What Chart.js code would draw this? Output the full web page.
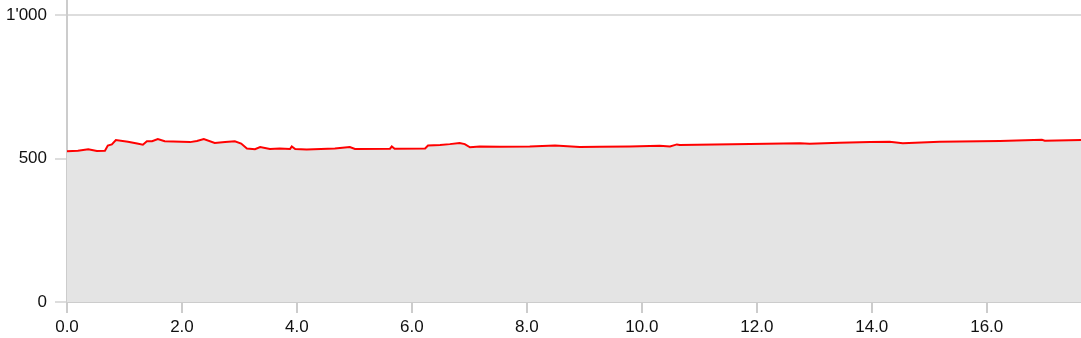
<html lang="en">
<head>
    <meta charset="UTF-8">
    <script src="https://cdn.jsdelivr.net/npm/chart.js"></script>
    <title>Elevation profile</title>
    <style>
        body { margin: 0; background: #fff; }
        #wrap { width: 1081px; height: 338px; }
    </style>
</head>
<body>
    <div id="wrap"><canvas id="myChart" width="1081" height="338"></canvas></div>
<script>
    // distance (km) and elevation (m)
    var distance = [0.00, 0.19, 0.37, 0.52, 0.66, 0.71, 0.78, 0.85, 1.06, 1.22, 1.32, 1.39, 1.48, 1.58, 1.70,
        2.14, 2.26, 2.38, 2.57, 2.75, 2.92, 3.03, 3.13, 3.27, 3.36, 3.53, 3.70, 3.88, 3.91, 3.97, 4.17,
        4.66, 4.92, 5.01, 5.62, 5.65, 5.70, 6.23, 6.28, 6.49, 6.66, 6.83, 6.92, 7.01, 7.18, 7.53, 8.05,
        8.49, 8.92, 9.27, 9.79, 10.31, 10.49, 10.61, 10.66, 11.88, 12.75, 12.92, 13.44, 13.97, 14.31,
        14.54, 15.18, 16.23, 16.96, 17.01, 17.64];
    var elevation = [526, 528, 533, 527, 528, 546, 550, 565, 559, 553, 549, 561, 561, 569, 561,
        558, 562, 569, 555, 558, 561, 553, 536, 533, 541, 534, 536, 534, 543, 534, 532,
        536, 541, 534, 535, 543, 535, 536, 546, 548, 551, 555, 551, 540, 543, 542, 543,
        546, 541, 542, 543, 545, 543, 550, 548, 551, 554, 552, 556, 558, 559,
        554, 559, 562, 566, 563, 565];
    var xTicks = [0, 2, 4, 6, 8, 10, 12, 14, 16];
    var yTicks = [0, 500, 1000];

    var points = distance.map(function (d, i) { return { x: d, y: elevation[i] }; });

    function sep(v) {
        return v.toString().replace(/\B(?=(\d{3})+(?!\d))/g, "'");
    }

    Chart.defaults.font.family = "'Liberation Sans', Arial, sans-serif";
    Chart.defaults.font.size = 17;
    Chart.defaults.color = '#111';

    const ctx = document.getElementById('myChart').getContext('2d');
    new Chart(ctx, {
        type: 'line',
        data: {
            datasets: [{
                data: points,
                borderColor: '#ff0000',
                borderWidth: 2,
                backgroundColor: '#e4e4e4',
                fill: 'origin',
                pointRadius: 0,
                tension: 0
            }]
        },
        options: {
            responsive: false,
            animation: false,
            layout: { padding: 0 },
            plugins: { legend: { display: false }, tooltip: { enabled: false } },
            scales: {
                x: {
                    type: 'linear',
                    min: 0,
                    max: 17.64,
                    afterBuildTicks: function (axis) {
                        axis.ticks = xTicks.map(function (v) { return { value: v }; });
                    },
                    afterFit: function (axis) {
                        axis.height = 36;
                        axis.paddingLeft = 0;
                        axis.paddingRight = 0;
                    },
                    ticks: {
                        padding: 4,
                        maxRotation: 0,
                        callback: function (v) { return v.toFixed(1); }
                    },
                    grid: {
                        drawOnChartArea: false,
                        color: '#cccccc',
                        lineWidth: 2,
                        tickLength: 11
                    },
                    border: { color: '#cccccc', width: 2 }
                },
                y: {
                    min: 0,
                    max: 1054,
                    afterBuildTicks: function (axis) {
                        axis.ticks = yTicks.map(function (v) { return { value: v }; });
                    },
                    afterFit: function (axis) {
                        axis.width = 67;
                        axis.paddingTop = 0;
                        axis.paddingBottom = 0;
                    },
                    ticks: {
                        padding: 8,
                        callback: function (v) { return sep(v); }
                    },
                    grid: {
                        color: '#dddddd',
                        lineWidth: 2,
                        tickLength: 12
                    },
                    border: { color: '#cccccc', width: 2 }
                }
            }
        }
    });
</script>
</body>
</html>
